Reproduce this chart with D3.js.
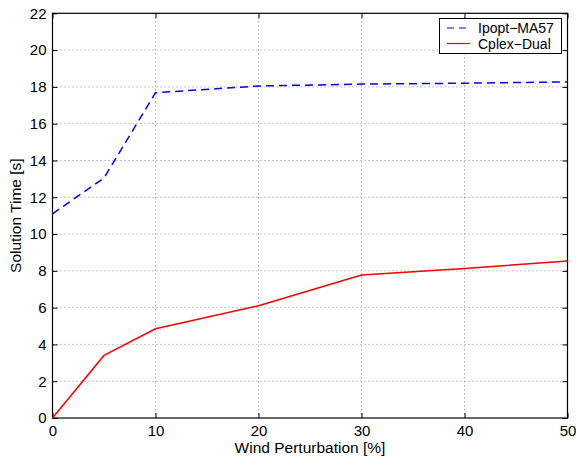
<!DOCTYPE html>
<html><head><meta charset="utf-8">
<script src="https://cdn.jsdelivr.net/npm/d3@7"></script>
<style>body{margin:0;background:#fff}svg{display:block}text{font-family:"Liberation Sans",Arial,sans-serif}</style>
</head><body>
<svg id="c" width="576" height="460"></svg>
<script>
const xVals = [0, 5, 10, 20, 30, 40, 50];
const ipopt = [11.1, 13.05, 17.68, 18.05, 18.15, 18.2, 18.27];
const cplex = [0, 3.4, 4.85, 6.1, 7.77, 8.13, 8.53];
const xTicks = [0, 10, 20, 30, 40, 50];
const yTicks = [0, 2, 4, 6, 8, 10, 12, 14, 16, 18, 20, 22];
const seriesNames = ["Ipopt\u2212MA57", "Cplex\u2212Dual"];

const svg = d3.select("#c");
const L = 52.5, R = 567.5, T = 13.3, B = 418;
const x = d3.scaleLinear().domain([0, 50]).range([L, R]);
const y = d3.scaleLinear().domain([0, 22]).range([B, T]);

const g = svg.append("g");
g.selectAll(".gx").data(xTicks.slice(1, -1)).enter().append("line")
  .attr("x1", d => x(d)).attr("x2", d => x(d)).attr("y1", T).attr("y2", B)
  .attr("stroke", "#888").attr("stroke-width", 1).attr("stroke-dasharray", "1,3");
g.selectAll(".gy").data(yTicks.slice(1, -1)).enter().append("line")
  .attr("y1", d => y(d)).attr("y2", d => y(d)).attr("x1", L).attr("x2", R)
  .attr("stroke", "#888").attr("stroke-width", 1).attr("stroke-dasharray", "1,3");

const tk = 5;
const ax = svg.append("g").attr("transform", `translate(0,${B})`)
  .call(d3.axisBottom(x).tickValues(xTicks).tickSize(-tk).tickPadding(7).tickFormat(d3.format("d")));
const axT = svg.append("g").attr("transform", `translate(0,${T})`)
  .call(d3.axisTop(x).tickValues(xTicks).tickSize(-tk).tickFormat(""));
const ay = svg.append("g").attr("transform", `translate(${L},0)`)
  .call(d3.axisLeft(y).tickValues(yTicks).tickSize(-tk).tickPadding(6).tickFormat(d3.format("d")));
const ayR = svg.append("g").attr("transform", `translate(${R},0)`)
  .call(d3.axisRight(y).tickValues(yTicks).tickSize(-tk).tickFormat(""));
[ax, axT, ay, ayR].forEach(a => {
  a.attr("font-size", 15).attr("font-family", "'Liberation Sans',Arial,sans-serif");
  a.select(".domain").remove();
  a.selectAll("line").attr("stroke", "#000");
  a.selectAll("text").attr("fill", "#000");
});
ax.selectAll("text").attr("dy", "0.71em");
svg.append("rect").attr("x", L).attr("y", T).attr("width", R - L).attr("height", B - T)
  .attr("fill", "none").attr("stroke", "#000").attr("stroke-width", 1.2);

const line = d3.line().x((d, i) => x(xVals[i])).y(d => y(d));
svg.append("path").datum(ipopt).attr("d", line).attr("fill", "none")
  .attr("stroke", "#0000ff").attr("stroke-width", 1.5).attr("stroke-dasharray", "8,5");
svg.append("path").datum(cplex).attr("d", line).attr("fill", "none")
  .attr("stroke", "#ff0000").attr("stroke-width", 1.5);

svg.append("text").attr("x", (L + R) / 2).attr("y", 452.5).attr("text-anchor", "middle")
  .attr("font-size", 15.5).text("Wind Perturbation [%]");
svg.append("text").attr("transform", `translate(20.5,${(T + B) / 2}) rotate(-90)`)
  .attr("text-anchor", "middle").attr("font-size", 15.5).text("Solution Time [s]");

const lg = svg.append("g");
lg.append("rect").attr("x", 439.5).attr("y", 18.5).attr("width", 122).attr("height", 35)
  .attr("fill", "#fff").attr("stroke", "#000").attr("stroke-width", 1);
const colors = ["#0000ff", "#ff0000"], dashes = ["7,5", null];
seriesNames.forEach((n, i) => {
  const yy = 28 + i * 15.5;
  lg.append("line").attr("x1", 447).attr("x2", 470).attr("y1", yy).attr("y2", yy)
    .attr("stroke", colors[i]).attr("stroke-width", 1.2).attr("stroke-dasharray", dashes[i]);
  lg.append("text").attr("x", 478).attr("y", yy + 5).attr("font-size", 14).text(n);
});
</script>
</body></html>
